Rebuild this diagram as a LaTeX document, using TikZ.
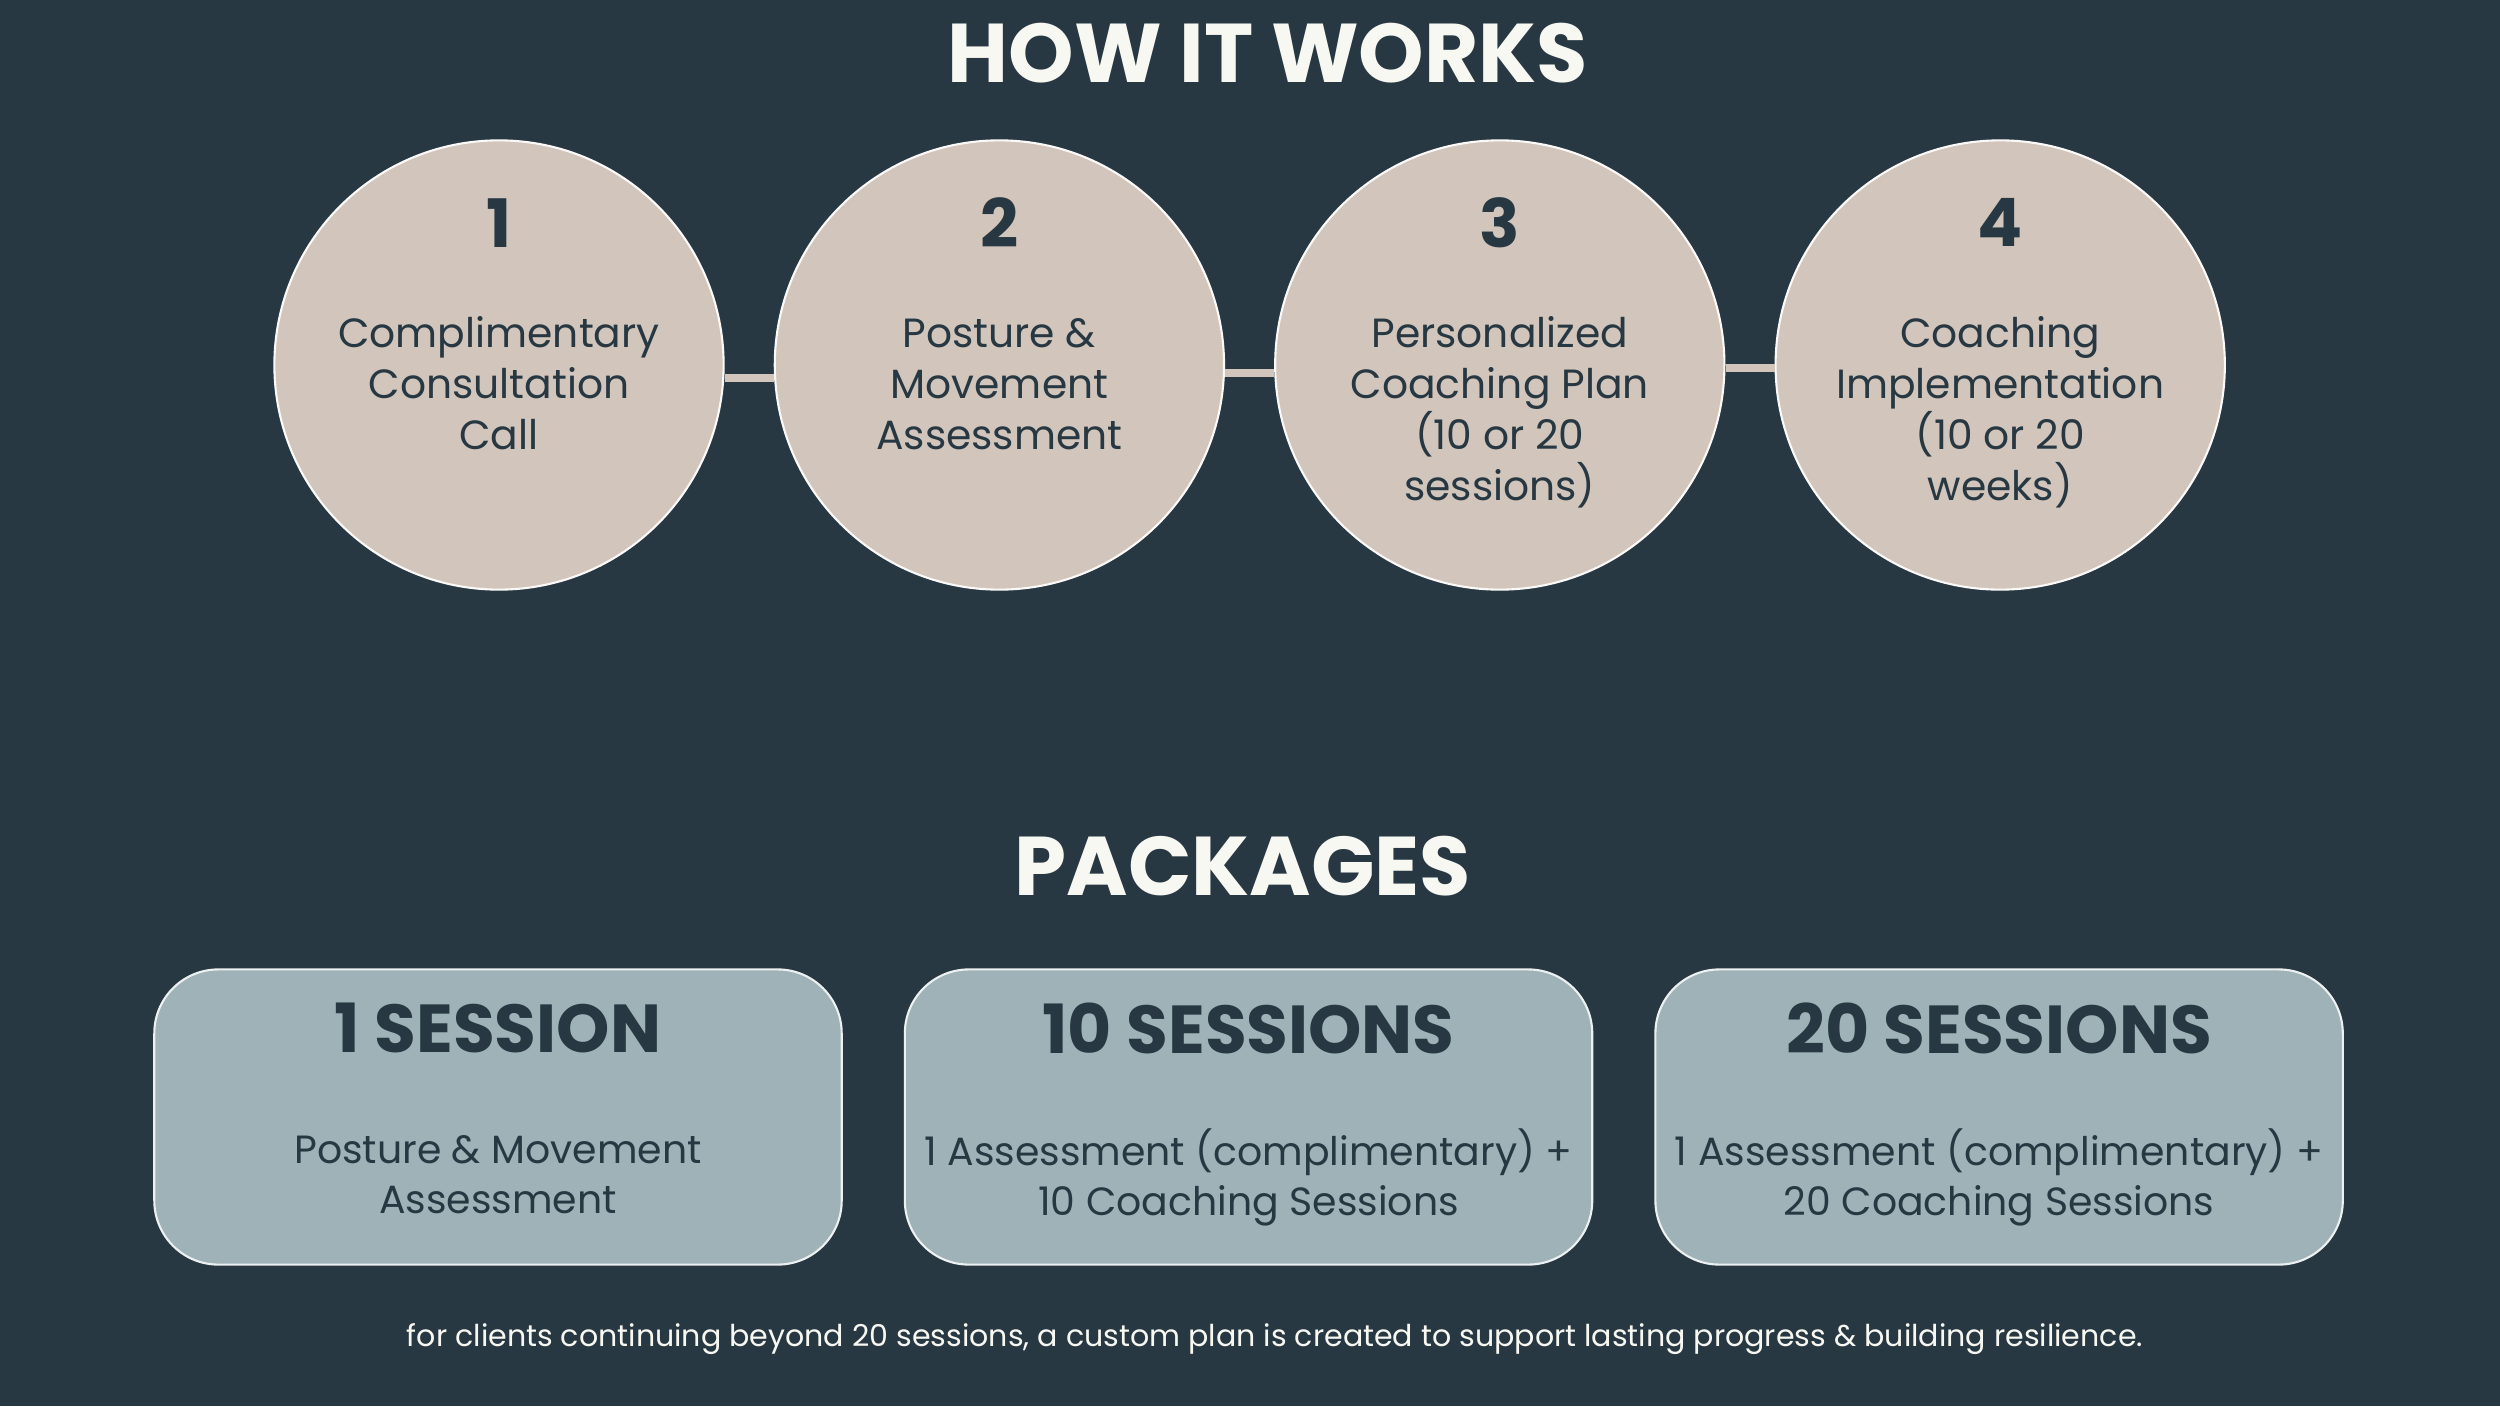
\documentclass[tikz,border=0pt]{standalone}
\usepackage{fontspec}
\setmainfont{Poppins}
\definecolor{slate}{RGB}{39,56,67}
\definecolor{sand}{RGB}{210,197,187}
\definecolor{mist}{RGB}{158,178,183}
\definecolor{chalk}{RGB}{248,248,242}
\usetikzlibrary{positioning}
\newcommand{\firstline}{\rule{0pt}{10pt}}
\tikzset{
  heading/.style={text=chalk, font=\fontsize{23.7}{28}\selectfont\bfseries, inner sep=0pt},
  stepdisc/.style={circle, draw=white!90!sand, line width=0.6pt, fill=sand,
              minimum size=4.49cm, inner sep=0pt},
  stepnum/.style={text=slate, font=\fontsize{19}{22}\selectfont\bfseries, inner sep=0pt},
  steptext/.style={text=slate, font=\fontsize{11.6}{14.5}\selectfont, align=center, inner sep=0pt},
  link/.style={draw=sand, line width=2pt},
  pack/.style={draw=white!80!mist, line width=0.6pt, fill=mist, rounded corners=0.64cm,
              minimum width=6.87cm, minimum height=2.95cm, inner sep=0pt},
  packtitle/.style={text=slate, font=\fontsize{19.3}{22}\selectfont\bfseries, inner sep=0pt},
  packtext/.style={text=slate, font=\fontsize{11.2}{14.2}\selectfont, align=center, inner sep=0pt},
  note/.style={text=chalk, font=\fontsize{8.55}{10}\selectfont, inner sep=0pt},
}
\begin{document}
\begin{tikzpicture}[x=0.01cm,y=-0.01cm]
  \fill[slate] (0,0) rectangle (2500,1406);
  % how it works
  \node[heading] (howtitle) at (1268,53) {HOW IT WORKS};
  \node[stepdisc] (c1) at (499,365) {};
  \node[stepdisc,right=0.49cm of c1] (c2) {};
  \node[stepdisc,right=0.49cm of c2] (c3) {};
  \node[stepdisc,right=0.49cm of c3] (c4) {};
  \draw[link] ([yshift=-0.13cm]c1.east) -- ([yshift=-0.13cm]c2.west);
  \draw[link] ([yshift=-0.08cm]c2.east) -- ([yshift=-0.08cm]c3.west);
  \draw[link] ([yshift=-0.03cm]c3.east) -- ([yshift=-0.03cm]c4.west);
  \node[stepnum] (n1) at ([yshift=1.42cm]c1.center) {1};
  \node[stepnum] (n2) at ([yshift=1.42cm]c2.center) {2};
  \node[stepnum] (n3) at ([yshift=1.42cm]c3.center) {3};
  \node[stepnum] (n4) at ([yshift=1.42cm]c4.center) {4};
  \node[steptext,anchor=north] (t1) at ([yshift=0.533cm]c1.center)
    {\firstline Complimentary\\Consultation\\Call};
  \node[steptext,anchor=north] (t2) at ([yshift=0.533cm]c2.center)
    {\firstline Posture \&\\Movement\\Assessment};
  \node[steptext,anchor=north] (t3) at ([yshift=0.533cm]c3.center)
    {\firstline Personalized\\Coaching Plan\\(10 or 20\\sessions)};
  \node[steptext,anchor=north] (t4) at ([yshift=0.533cm]c4.center)
    {\firstline Coaching\\Implementation\\(10 or 20\\weeks)};
  % packages
  \node[heading] (packtitle) at (1243,866) {PACKAGES};
  \node[pack] (p1) at (498,1117) {};
  \node[pack,right=0.61cm of p1] (p2) {};
  \node[pack,right=0.61cm of p2] (p3) {};
  \node[packtitle] (h1) at ([yshift=0.89cm]p1.center) {1 SESSION};
  \node[packtitle] (h2) at ([yshift=0.89cm]p2.center) {10 SESSIONS};
  \node[packtitle] (h3) at ([yshift=0.89cm]p3.center) {20 SESSIONS};
  \node[packtext,anchor=north] (b1) at ([yshift=-0.11cm]p1.center)
    {\firstline Posture \& Movement\\Assessment};
  \node[packtext,anchor=north] (b2) at ([yshift=-0.11cm]p2.center)
    {\firstline 1 Assessment (complimentary) +\\10 Coaching Sessions};
  \node[packtext,anchor=north] (b3) at ([yshift=-0.11cm]p3.center)
    {\firstline 1 Assessment (complimentary) +\\20 Coaching Sessions};
  \node[note] (foot) at (1275,1339)
    {for clients continuing beyond 20 sessions, a custom plan is created to support lasting progress \& building resilience.};
\end{tikzpicture}
\end{document}
